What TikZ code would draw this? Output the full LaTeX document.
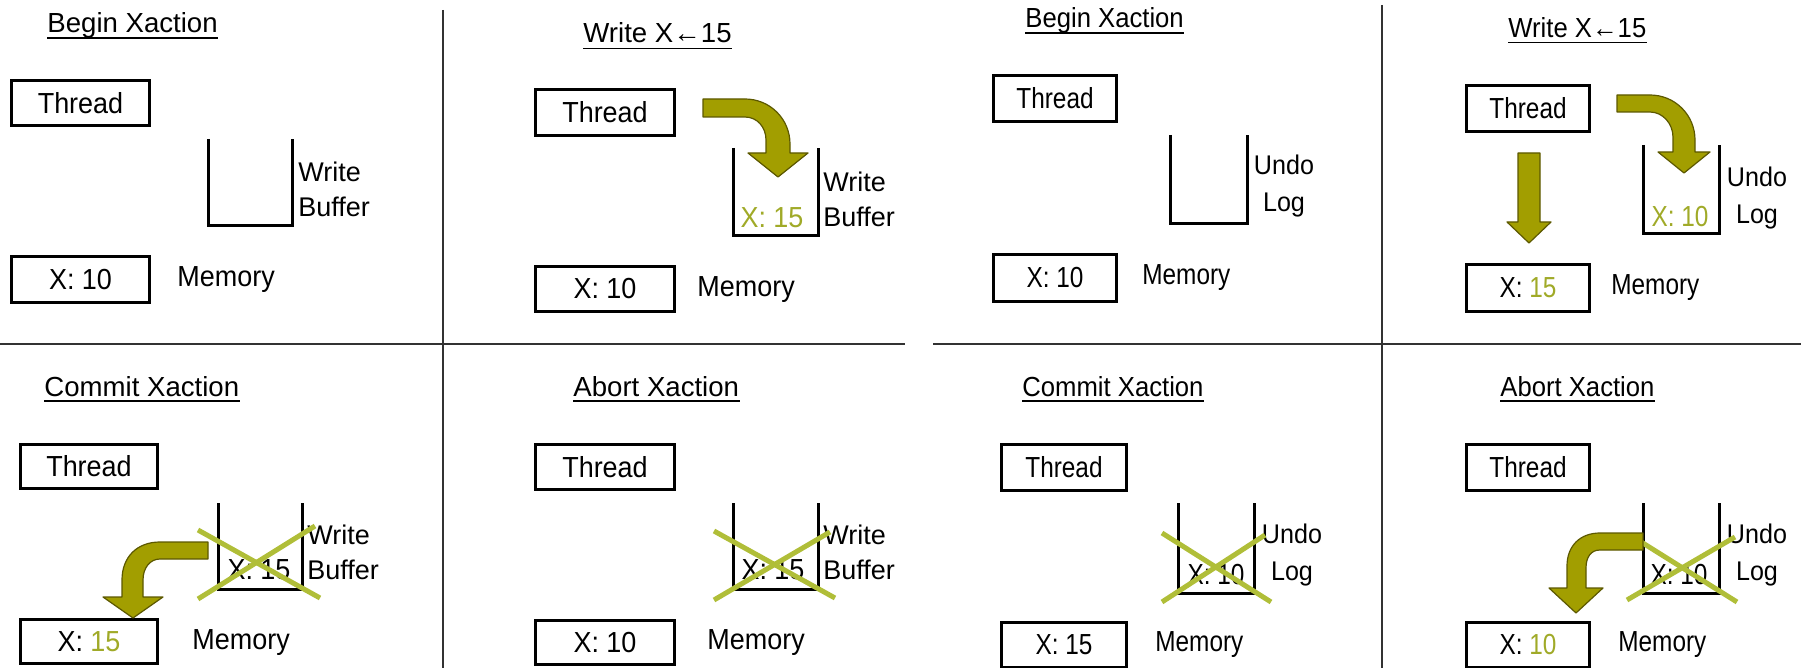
\documentclass[tikz,border=0pt]{standalone}
\usepackage{fontspec}
\setmainfont{Liberation Sans}
\newfontfamily\lboxf[FakeStretch=0.93]{Liberation Sans}
\newfontfamily\rboxf[FakeStretch=0.84]{Liberation Sans}
\newfontfamily\llblf{Liberation Sans}
\newfontfamily\rlblf[FakeStretch=0.93]{Liberation Sans}
\definecolor{arrfill}{RGB}{162,158,0}
\definecolor{arrline}{RGB}{92,88,0}
\definecolor{crossc}{RGB}{176,190,56}
\definecolor{valc}{RGB}{160,170,40}
\definecolor{divc}{RGB}{50,50,50}
\begin{document}
\begin{tikzpicture}[x=0.5pt,y=-0.5pt,
  divider/.style={draw=divc, line width=1pt},
  lbox/.style={draw, line width=1.5pt, inner sep=0pt, font=\lboxf\fontsize{14.5}{17}\selectfont},
  rbox/.style={draw, line width=1.5pt, inner sep=0pt, font=\rboxf\fontsize{14.5}{17}\selectfont},
  sz/.style 2 args={minimum width=#1*0.5pt, minimum height=#2*0.5pt},
  ltxt/.style={inner sep=0pt, font=\lboxf\fontsize{14.5}{17}\selectfont},
  rtxt/.style={inner sep=0pt, font=\rboxf\fontsize{14.5}{17}\selectfont},
  ltitle/.style={inner sep=0pt, anchor=base west, font=\llblf\fontsize{13.8}{17}\selectfont},
  rtitle/.style={inner sep=0pt, anchor=base west, font=\rlblf\fontsize{13.8}{17}\selectfont},
  llabel/.style={inner sep=0pt, anchor=west, align=left, font=\llblf\fontsize{13.5}{17.5}\selectfont},
  rlabel/.style={inner sep=0pt, align=center, font=\rlblf\fontsize{13.5}{18.5}\selectfont},
  uline/.style={line width=0.8pt},
  bin/.style={line width=1.5pt},
  fat/.style={fill=arrfill, draw=arrline, line width=0.6pt, line join=round},
  cross/.style={draw=crossc, line width=2.5pt},
  val/.style={text=valc}]
\useasboundingbox (0,0) rectangle (1801,668);

% dividers
\draw[divider] (443,10) -- (443,668);
\draw[divider] (1382,5) -- (1382,668);
\draw[divider] (0,344) -- (905,344);
\draw[divider] (933,344) -- (1801,344);

% ---------- Panel 1 ----------
\node[ltitle] (t1) at (47,33) {Begin Xaction};
\draw[uline] ([yshift=-2.5pt]t1.base west) -- ([yshift=-2.5pt]t1.base east);
\node[lbox, sz={138}{45}] (th1) at (80.5,103) {Thread};
\node[lbox, sz={138}{46}] (mem1) at (80.5,279.5) {X: 10};
\node[ltxt, anchor=west] (ml1) at (177,280) {Memory};
\draw[bin] (208,139) -- (208,226) -- (292,226) -- (292,139);
\node[llabel] (bl1) at (298,189.5) {Write\\Buffer};

% ---------- Panel 2 ----------
\node[ltitle] (t2) at (583,43) {Write X←15};
\draw[uline] ([yshift=-2.8pt]t2.base west) -- ([yshift=-2.8pt]t2.base east);
\node[lbox, sz={139}{46}] (th2) at (605,112.5) {Thread};
\node[lbox, sz={139}{45}] (mem2) at (605,289) {X: 10};
\node[ltxt, anchor=west] (ml2) at (697,290) {Memory};
\draw[bin] (733,148) -- (733,236) -- (818,236) -- (818,148);
\node[llabel] (bl2) at (823,199.5) {Write\\Buffer};
\node[ltxt, val] (v2) at (772,218) {X: 15};
\draw[fat] (703,99) -- (745,99) .. controls (770,99) and (790,119) .. (790,144)
  -- (790,153) -- (808,153) -- (778,177) -- (748,153) -- (766,153) -- (766,140)
  .. controls (766,127) and (757,117) .. (745,117) -- (703,117) -- cycle;

% ---------- Panel 3 ----------
\node[rtitle] (t3) at (1025,28) {Begin Xaction};
\draw[uline] ([yshift=-2.5pt]t3.base west) -- ([yshift=-2.5pt]t3.base east);
\node[rbox, sz={123}{46}] (th3) at (1055,98.5) {Thread};
\node[rbox, sz={123}{47}] (mem3) at (1055,278) {X: 10};
\node[rtxt, anchor=west] (ml3) at (1142,278) {Memory};
\draw[bin] (1170,135) -- (1170,224) -- (1247,224) -- (1247,135);
\node[rlabel] (bl3) at (1284,186.5) {Undo\\Log};

% ---------- Panel 4 ----------
\node[rtitle] (t4) at (1508,38) {Write X←15};
\draw[uline] ([yshift=-2.2pt]t4.base west) -- ([yshift=-2.2pt]t4.base east);
\node[rbox, sz={123}{46}] (th4) at (1528,108.5) {Thread};
\node[rbox, sz={123}{47}] (mem4) at (1528,288) {X: \textcolor{valc}{15}};
\node[rtxt, anchor=west] (ml4) at (1611,288) {Memory};
\draw[bin] (1643,145) -- (1643,234) -- (1719,234) -- (1719,145);
\node[rlabel] (bl4) at (1757,198.5) {Undo\\Log};
\node[rtxt, val] (v4) at (1680,217) {X: 10};
\draw[fat] (1617,95) -- (1650,95) .. controls (1675,95) and (1695,115) .. (1695,140)
  -- (1695,152) -- (1710,152) -- (1684,173) -- (1658,152) -- (1673,152) -- (1673,137)
  .. controls (1673,124) and (1663,112) .. (1650,112) -- (1617,112) -- cycle;
\draw[fat] (1518,153) -- (1540,153) -- (1540,222) -- (1551,222) -- (1529,243)
  -- (1507,222) -- (1518,222) -- cycle;

% ---------- Panel 5 ----------
\node[ltitle] (t5) at (44,397) {Commit Xaction};
\draw[uline] ([yshift=-2pt]t5.base west) -- ([yshift=-2pt]t5.base east);
\node[lbox, sz={137}{44}] (th5) at (89,466.5) {Thread};
\node[lbox, sz={137}{44}] (mem5) at (89,641.5) {X: \textcolor{valc}{15}};
\node[ltxt, anchor=west] (ml5) at (192,643) {Memory};
\draw[bin] (218,503) -- (218,589) -- (302,589) -- (302,503);
\node[llabel] (bl5) at (307,552.5) {Write\\Buffer};
\node[ltxt] (v5) at (259,570) {X: 15};
\draw[cross] (198,530) -- (320,598);
\draw[cross] (198,599) -- (315,526);
\draw[fat] (208,542) -- (160,542) .. controls (137,542) and (122,557) .. (122,580)
  -- (122,597) -- (103,597) -- (133,618) -- (163,597) -- (143,597) -- (143,580)
  .. controls (143,568) and (150,559) .. (160,559) -- (208,559) -- cycle;

% ---------- Panel 6 ----------
\node[ltitle] (t6) at (573,397) {Abort Xaction};
\draw[uline] ([yshift=-2pt]t6.base west) -- ([yshift=-2pt]t6.base east);
\node[lbox, sz={139}{45}] (th6) at (605,467) {Thread};
\node[lbox, sz={139}{44}] (mem6) at (605,642.5) {X: 10};
\node[ltxt, anchor=west] (ml6) at (707,643) {Memory};
\draw[bin] (733,503) -- (733,589) -- (818,589) -- (818,503);
\node[llabel] (bl6) at (823,552) {Write\\Buffer};
\node[ltxt] (v6) at (773,570) {X: 15};
\draw[cross] (714,531) -- (835,598);
\draw[cross] (714,600) -- (830,532);

% ---------- Panel 7 ----------
\node[rtitle] (t7) at (1022,397) {Commit Xaction};
\draw[uline] ([yshift=-2pt]t7.base west) -- ([yshift=-2pt]t7.base east);
\node[rbox, sz={125}{46}] (th7) at (1064,467.5) {Thread};
\node[rbox, sz={125}{45}] (mem7) at (1064,644.5) {X: 15};
\node[rtxt, anchor=west] (ml7) at (1155,645) {Memory};
\draw[bin] (1178,503) -- (1178,593) -- (1254,593) -- (1254,503);
\node[rlabel] (bl7) at (1292,555) {Undo\\Log};
\node[rtxt] (v7) at (1216,575) {X: 10};
\draw[cross] (1162,533) -- (1271,602);
\draw[cross] (1162,602) -- (1265,535);

% ---------- Panel 8 ----------
\node[rtitle] (t8) at (1500,397) {Abort Xaction};
\draw[uline] ([yshift=-2pt]t8.base west) -- ([yshift=-2pt]t8.base east);
\node[rbox, sz={123}{46}] (th8) at (1528,467.5) {Thread};
\node[rbox, sz={123}{45}] (mem8) at (1528,644.5) {X: \textcolor{valc}{10}};
\node[rtxt, anchor=west] (ml8) at (1618,645) {Memory};
\draw[bin] (1643,503) -- (1643,593) -- (1719,593) -- (1719,503);
\node[rlabel] (bl8) at (1757,555) {Undo\\Log};
\node[rtxt] (v8) at (1679,575) {X: 10};
\draw[cross] (1630,535) -- (1737,602);
\draw[cross] (1627,600) -- (1735,537);
\draw[fat] (1643,533) -- (1600,533) .. controls (1580,533) and (1567,546) .. (1567,566)
  -- (1567,588) -- (1549,588) -- (1576,613) -- (1603,588) -- (1586,588) -- (1586,568)
  .. controls (1586,557) and (1591,550) .. (1600,550) -- (1643,550) -- cycle;
\end{tikzpicture}
\end{document}
